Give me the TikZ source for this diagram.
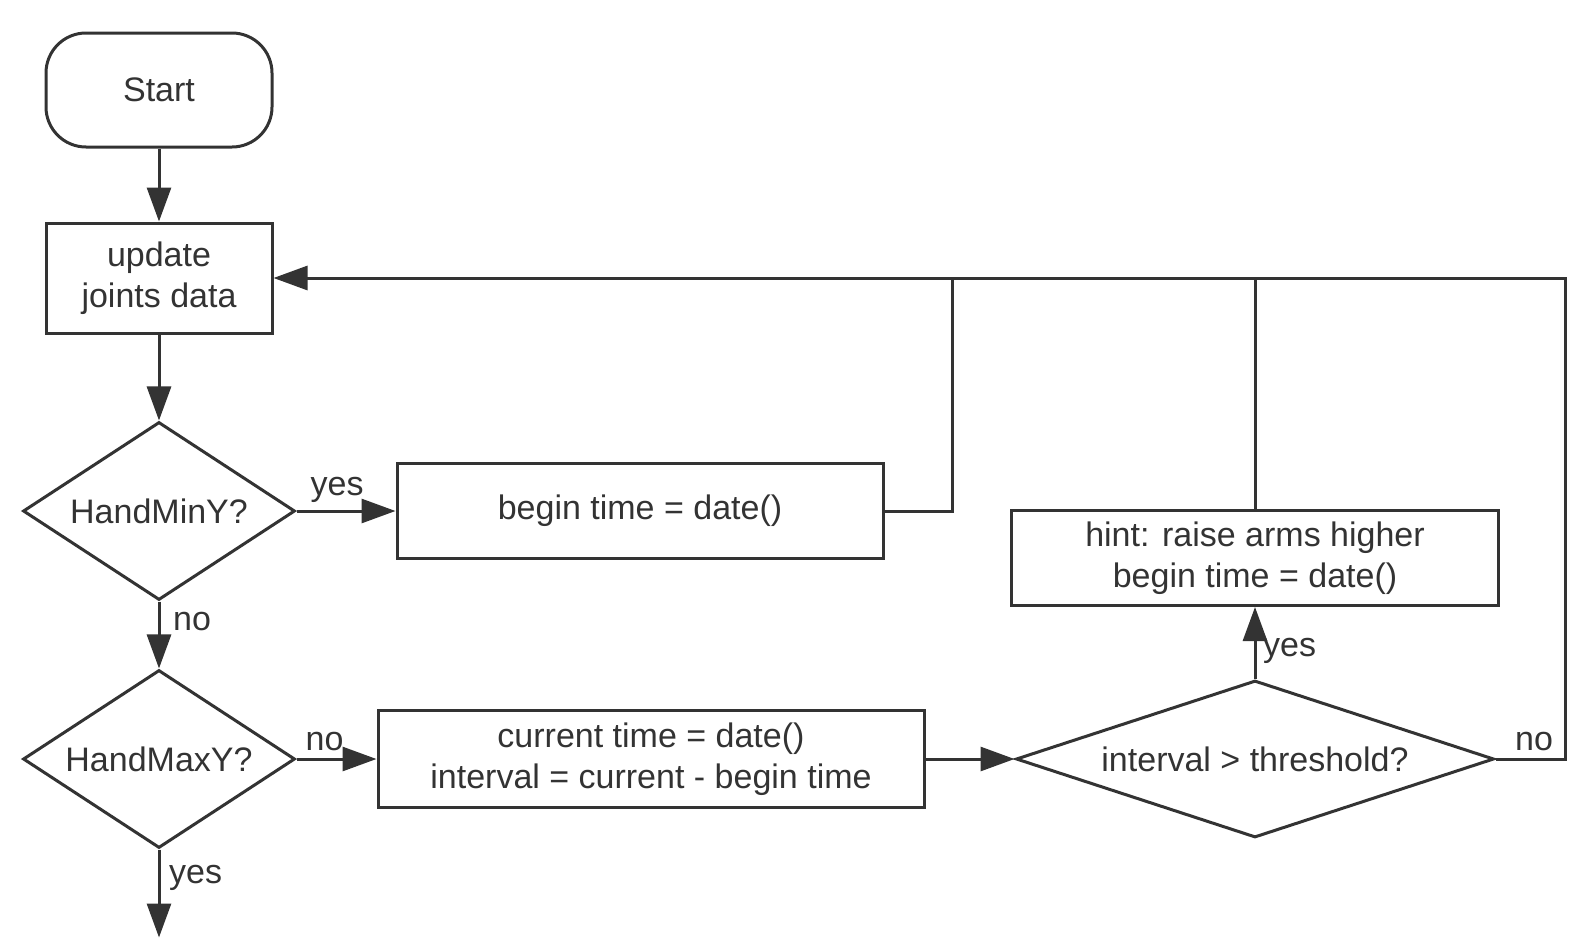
\documentclass[tikz,border=0pt]{standalone}
\usepackage{fontspec}
\setmainfont{Liberation Sans}
\usetikzlibrary{arrows.meta,positioning,shapes.geometric}
\definecolor{ink}{HTML}{333333}

\begin{document}
\begin{tikzpicture}[x=1pt, y=1pt, font=\fontsize{17}{20.5}\selectfont,
                    every node/.style={text=ink}]
    \tikzstyle{term}=[rectangle, draw=ink, line width=1.5pt, rounded corners=20pt, minimum width=113pt, minimum height=57pt]
    \tikzstyle{box}=[rectangle, draw=ink, line width=1.5pt, align=center, inner sep=0pt]
    \tikzstyle{test}=[diamond, draw=ink, line width=1.5pt, inner sep=0pt]
    \tikzstyle{connect}=[-{Triangle[length=17pt,width=12pt]}, draw=ink, line width=1.5pt]
    \tikzstyle{line}=[draw=ink, line width=1.5pt]

      \useasboundingbox (0,0) rectangle (795,-471);

      \node[term] (start) at (79.5,-45) {Start};
      \node[box, minimum width=113pt, minimum height=55pt] (update) [below=36.5pt of start] {update\\joints data};
      \node[test, aspect=1.5, minimum width=136pt, minimum height=89pt] (handmin) [below=43pt of update] {HandMinY?};
      \node[test, aspect=1.5, minimum width=136pt, minimum height=89pt] (handmax) [below=33.5pt of handmin] {HandMaxY?};
      \coordinate[below=44pt of handmax.south] (exit);
      \node[box, minimum width=243pt, minimum height=47.5pt] (begin) [right=49.5pt of handmin] {begin time = date()};
      \node[box, minimum width=273pt, minimum height=48.5pt] (current) [right=40pt of handmax] {current time = date()\\interval = current - begin time};
      \node[test, aspect=3, minimum width=239pt, minimum height=78.5pt] (thresh) [right=44.5pt of current] {interval > threshold?};
      \node[box, minimum width=243.5pt, minimum height=47.5pt] (hint) [above=36pt of thresh] {hint: raise arms higher\\begin time = date()};
      \coordinate[right=34pt of begin.east] (bturn);
      \coordinate[right=35pt of thresh.east] (nturn);

      \path
        (start) edge [connect] (update)
        (update) edge [connect] (handmin)
        (handmin) edge [connect] node[above, pos=0.41] {yes} (begin)
        (handmin) edge [connect] node[right, pos=0.3, xshift=3pt] {no} (handmax)
        (handmax) edge [connect] node[above, pos=0.35] {no} (current)
        (handmax) edge [connect] node[right, pos=0.32, xshift=1pt] {yes} (exit)
        (current) edge [connect] (thresh)
        (thresh) edge [connect] node[right, pos=0.39] {yes} (hint);
      % loops back to the update box
      \draw[line] (begin.east) -| (bturn |- update.east);
      \draw[line] (hint.north) -- (hint.north |- update.east);
      \draw[connect] (thresh.east) -- node[above, pos=0.55] {no} (nturn) |- (update.east);
    \end{tikzpicture}
\end{document}
